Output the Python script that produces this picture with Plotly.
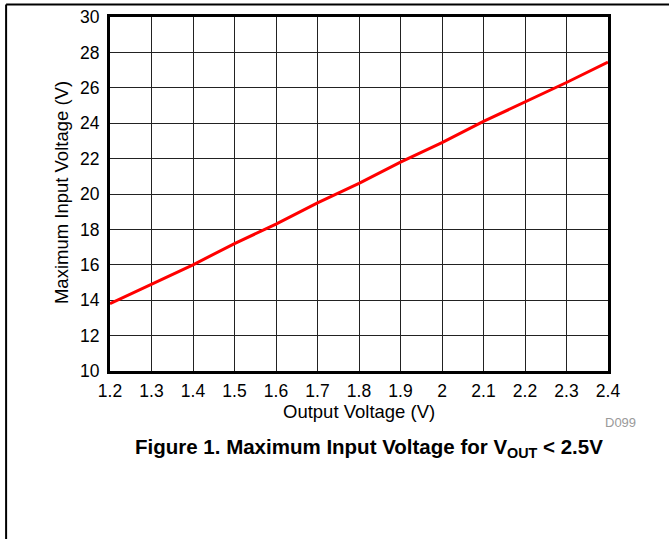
import plotly.graph_objects as go

# Data
output_voltage = [1.2, 1.3, 1.4, 1.5, 1.6, 1.7, 1.8, 1.9, 2.0, 2.1, 2.2, 2.3, 2.4]
max_input_voltage = [13.8, 14.9, 16.0, 17.2, 18.3, 19.5, 20.6, 21.8, 22.9, 24.1, 25.2, 26.3, 27.45]

x_ticks = [1.2, 1.3, 1.4, 1.5, 1.6, 1.7, 1.8, 1.9, 2.0, 2.1, 2.2, 2.3, 2.4]
x_tick_labels = ["1.2", "1.3", "1.4", "1.5", "1.6", "1.7", "1.8", "1.9", "2", "2.1", "2.2", "2.3", "2.4"]
y_ticks = [10, 12, 14, 16, 18, 20, 22, 24, 26, 28, 30]

W, H = 669, 539
L, R, T, B = 110, 60.5, 16.5, 167.5
pw, ph = W - L - R, H - T - B

def px_x(p):
    return (p - L) / pw

def px_y(p):
    return (H - B - p) / ph

FONT = "Liberation Sans, Arial, sans-serif"

fig = go.Figure()
fig.add_trace(go.Scatter(
    x=output_voltage, y=max_input_voltage, mode="lines",
    line=dict(color="#ff0000", width=3), showlegend=False, hoverinfo="skip"))

axis_common = dict(
    showline=True, linecolor="black", linewidth=3, mirror=True,
    showgrid=True, gridcolor="#222222", gridwidth=1, automargin=False,
    zeroline=False, ticks="", tickfont=dict(family=FONT, size=17.5, color="black"),
)

fig.update_xaxes(range=[1.2, 2.4], tickvals=x_ticks, ticktext=x_tick_labels,
                 ticklabelstandoff=2, **axis_common)
fig.update_yaxes(range=[10, 30], tickvals=y_ticks, ticklabelstandoff=4, **axis_common)

fig.update_layout(
    width=W, height=H, autosize=False,
    margin=dict(l=L, r=R, t=T, b=B, pad=0),
    paper_bgcolor="white", plot_bgcolor="white",
    font=dict(family=FONT, color="black"),
)

annotations = [
    dict(text="Output Voltage (V)", x=0.5, y=px_y(412), xref="paper", yref="paper",
         showarrow=False, font=dict(size=18.5, family=FONT, color="black"),
         xanchor="center", yanchor="middle"),
    dict(text="Maximum Input Voltage (V)", x=px_x(61), y=px_y(193), xref="paper", yref="paper",
         showarrow=False, textangle=-90, font=dict(size=18.5, family=FONT, color="black"),
         xanchor="center", yanchor="middle"),
    dict(text="D099", x=px_x(621.5), y=px_y(423.5), xref="paper", yref="paper",
         showarrow=False, font=dict(size=13, family=FONT, color="#9a9a9a"),
         xanchor="center", yanchor="middle"),
    dict(text="<b>Figure 1. Maximum Input Voltage for V<sub>OUT</sub> &lt; 2.5V</b>",
         x=px_x(369.5), y=px_y(449), xref="paper", yref="paper",
         showarrow=False, font=dict(size=20.5, family=FONT, color="black"),
         xanchor="center", yanchor="middle"),
]
fig.update_layout(annotations=annotations)

fig.add_shape(type="line", xref="paper", yref="paper",
              x0=px_x(6), x1=px_x(6), y0=px_y(545), y1=px_y(4),
              line=dict(color="black", width=2))
fig.add_shape(type="line", xref="paper", yref="paper",
              x0=px_x(6), x1=px_x(675), y0=px_y(4), y1=px_y(4),
              line=dict(color="black", width=2))

fig.write_html("out.html", config={"displayModeBar": False},
               post_script="document.body.style.margin='0';document.body.style.overflow='hidden';")
